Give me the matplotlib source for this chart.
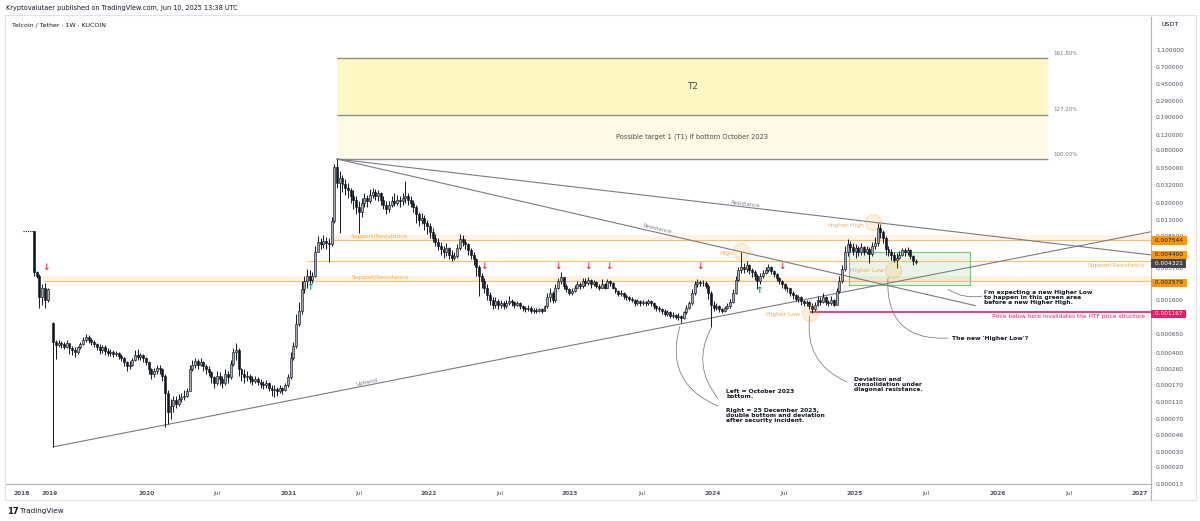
import numpy as np
import matplotlib
matplotlib.use('Agg')
import matplotlib.pyplot as plt
from matplotlib.patches import Rectangle
from matplotlib.lines import Line2D
from matplotlib.transforms import blended_transform_factory

UNIT = 1e-4  # candle values are in units of 0.0001 USDT

# weekly candles, 2018 (bars 0-5)
a_start = 0
a_open = 96
a_close = [33, 30, 17, 22, 16, 21]
a_high = [97, 34, 31, 24, 25, 22]
a_low = [30, 28, 13, 14, 13, 15]

# weekly candles, 2019 -> Jun 2025 (bars 7-323)
b_start = 7
b_open = 8.7
b_close = [
    5.3, 4.9, 5.1, 5.0, 4.7, 5.1, 4.5, 4.3, 4.1, 4.6,
    5.0, 5.6, 6.1, 5.6, 5.3, 5.0, 4.6, 4.3, 4.7, 4.2,
    4.0, 4.1, 3.9, 4.0, 3.7, 3.5, 3.1, 2.8, 2.9, 3.3,
    3.8, 3.6, 3.8, 3.5, 3.1, 2.6, 2.3, 2.5, 2.7, 2.6,
    2.2, 1.4, 0.85, 1.0, 1.15, 1.05, 1.2, 1.25, 1.3, 1.45,
    2.6, 2.9, 3.2, 2.9, 3.1, 2.8, 2.6, 2.4, 2.1, 1.8,
    2.2, 2.0, 1.8, 2.3, 2.1, 3.0, 4.1, 4.3, 2.6, 2.3,
    2.1, 2.2, 2.0, 1.9, 2.0, 1.85, 1.75, 1.7, 1.8, 1.6,
    1.5, 1.55, 1.45, 1.6, 1.5, 1.7, 2.1, 3.5, 4.8, 8.5,
    12, 21, 26, 30, 27, 30, 55, 72, 68, 75,
    70, 68, 125, 520, 340, 390, 330, 300, 280, 240,
    220, 180, 160, 200, 230, 210, 250, 270, 240, 260,
    220, 190, 170, 190, 210, 200, 220, 210, 230, 240,
    220, 200, 180, 150, 130, 135, 120, 110, 95, 80,
    72, 66, 60, 55, 62, 52, 48, 50, 62, 78,
    72, 68, 58, 52, 46, 38, 30, 26, 22, 18,
    16, 14, 15.5, 14, 14.5, 13.5, 14.5, 15.5, 15, 14,
    14.5, 13.5, 13, 12.5, 13, 12, 12.2, 11.8, 12.4, 11.9,
    13.5, 17, 19, 16, 22, 26, 29, 23, 21, 19,
    20, 22, 24, 23, 26, 25, 27, 24, 25.5, 23,
    22, 24, 22, 26, 25, 22, 20, 18.5, 19, 17.5,
    17, 16.5, 16, 14.5, 15.5, 14.5, 15, 14.5, 15.5, 14.5,
    13.5, 13, 12.5, 12, 11, 11.5, 10.5, 10.8, 10.2, 10.5,
    9.8, 11.5, 13, 14.5, 19, 24, 25.5, 24.5, 25, 23,
    19, 14, 13, 13.5, 12.5, 12, 12.8, 13.5, 15, 19,
    27, 35, 38, 36, 40, 35, 33, 30, 26, 30,
    32, 35, 38, 34, 31, 28, 26, 24, 22, 21.5,
    19, 18, 16.5, 17, 15.5, 14.5, 15, 13.5, 12.5, 14,
    16, 15, 17, 15, 14.5, 16, 14, 20, 26, 36,
    55, 68, 64, 57, 62, 55, 64, 56, 60, 53,
    65, 70, 105, 95, 80, 60, 55, 52, 45, 48,
    52, 58, 55, 59, 50, 44, 43.2,
]
b_high = [
    8.9, 5.6, 5.5, 5.4, 5.3, 5.6, 5.2, 4.8, 4.6, 4.8,
    5.3, 6.0, 6.6, 6.3, 5.9, 5.6, 5.2, 5.0, 4.9, 4.9,
    4.5, 4.4, 4.3, 4.2, 4.1, 3.9, 3.6, 3.2, 3.2, 3.5,
    4.3, 4.4, 4.0, 3.9, 3.6, 3.2, 2.7, 2.7, 2.9, 2.9,
    2.7, 2.3, 1.5, 1.2, 1.3, 1.3, 1.35, 1.4, 1.5, 1.6,
    2.9, 3.3, 3.5, 3.4, 3.5, 3.2, 3.0, 2.8, 2.5, 2.2,
    2.5, 2.4, 2.2, 2.6, 2.5, 3.3, 4.5, 5.1, 4.5, 2.7,
    2.6, 2.5, 2.3, 2.2, 2.2, 2.1, 2.0, 1.9, 1.95, 1.85,
    1.7, 1.7, 1.65, 1.7, 1.65, 1.8, 2.3, 4.1, 5.3, 11,
    15, 26, 30, 36, 35, 33, 66, 85, 80, 88,
    82, 80, 140, 560, 635, 460, 420, 380, 340, 300,
    280, 240, 210, 230, 260, 250, 290, 300, 290, 280,
    270, 240, 210, 210, 240, 260, 250, 240, 260, 360,
    260, 240, 220, 190, 160, 155, 145, 130, 120, 105,
    90, 80, 72, 66, 70, 64, 58, 56, 68, 90,
    88, 78, 70, 62, 55, 48, 40, 32, 28, 24,
    19.5, 17, 17, 16.5, 16, 15.5, 16, 17.5, 16.5, 15.5,
    15.5, 15, 14, 13.5, 14, 13.5, 13, 12.8, 13, 12.8,
    14, 19, 22, 20, 24, 28, 33, 29, 24, 22,
    21.5, 23.5, 26, 25.5, 28.5, 28, 29, 27.5, 27, 26,
    24, 27.5, 25, 27.5, 27, 25.5, 22.5, 20.5, 20.5, 19.5,
    18.5, 17.5, 17, 16.5, 16.5, 16, 16, 15.5, 16.5, 16,
    15, 14, 13.5, 13, 12.5, 12.2, 11.8, 11.5, 11, 11.2,
    10.8, 12, 14, 15.5, 21, 26, 27.5, 27, 26.5, 26,
    24, 20, 15.5, 14.5, 14, 13, 13.5, 14.5, 16.5, 21,
    30, 38, 56, 42, 44, 41, 37, 35, 31, 32,
    35, 38, 41, 39, 35, 32, 29, 27, 25, 23,
    22, 20, 18.5, 18, 17.5, 16, 16, 15.5, 14.5, 15,
    17.5, 17, 19, 17.5, 16, 17.5, 16.5, 22, 30, 40,
    65, 78, 74, 70, 68, 66, 70, 66, 66, 64,
    72, 82, 120, 115, 100, 85, 66, 60, 55, 54,
    57, 62, 62, 63, 60, 51, 46,
]
b_low = [
    0.34, 3.4, 4.6, 4.5, 4.4, 4.5, 3.9, 3.8, 3.6, 3.9,
    4.4, 4.9, 5.3, 5.2, 4.9, 4.6, 4.3, 3.9, 4.0, 3.8,
    3.7, 3.7, 3.6, 3.7, 3.4, 3.2, 2.8, 2.5, 2.6, 2.8,
    3.2, 3.3, 3.3, 3.1, 2.9, 2.3, 2.0, 2.1, 2.3, 2.3,
    1.9, 0.57, 0.62, 0.7, 0.85, 0.95, 1.0, 1.1, 1.15, 1.25,
    1.45, 2.5, 2.7, 2.6, 2.8, 2.5, 2.3, 2.2, 1.8, 1.6,
    1.7, 1.7, 1.6, 1.7, 1.8, 2.0, 2.8, 3.3, 2.2, 1.9,
    1.8, 1.9, 1.8, 1.7, 1.8, 1.7, 1.6, 1.55, 1.6, 1.45,
    1.3, 1.25, 1.3, 1.4, 1.35, 1.45, 1.65, 2.0, 3.3, 4.5,
    8.0, 11, 19, 22, 24, 25, 29, 55, 60, 62,
    60, 43, 65, 120, 300, 92, 270, 250, 230, 200,
    170, 150, 92, 140, 180, 180, 200, 230, 220, 210,
    190, 170, 150, 160, 180, 185, 190, 180, 190, 200,
    190, 180, 160, 120, 110, 115, 100, 90, 80, 72,
    65, 58, 52, 48, 50, 46, 44, 45, 48, 58,
    65, 60, 52, 46, 40, 30, 17.5, 22, 19, 16,
    14, 12.5, 13, 12.5, 13, 12.5, 13, 14, 13.5, 13,
    13.5, 12.5, 12, 11.5, 12, 11.3, 11.3, 11.2, 11.5, 11.3,
    11.8, 13, 15, 14.5, 15, 21, 24, 21, 19.5, 18,
    18, 19.5, 21.5, 21, 22, 23, 23.5, 22, 23, 21.5,
    20.5, 21.5, 21, 21.5, 23, 21, 19, 17.5, 17.5, 16.5,
    16, 15.5, 15, 13.5, 14, 13.5, 14, 13.5, 14, 13.5,
    12.5, 12, 11.5, 11, 10.5, 10.5, 10, 10, 9.6, 9.5,
    8.8, 9.6, 11, 12.5, 14, 18, 22.5, 23, 23, 21.5,
    16.5, 7.8, 12, 12.2, 11.6, 11.3, 11.5, 12.5, 13, 14.5,
    18.5, 26, 32, 32, 33, 31, 29, 27, 21, 24,
    28, 31, 33, 31, 29, 26, 24, 22, 20.5, 19.5,
    17.5, 16.5, 15.5, 15, 14, 13.5, 13.5, 12.5, 11.2, 12,
    13.5, 14, 14.5, 13.8, 13.5, 14, 13.5, 13.8, 19, 25,
    34, 50, 55, 52, 48, 50, 52, 51, 53, 42,
    50, 60, 66, 80, 70, 52, 50, 45, 43, 37,
    46, 50, 50, 51, 46, 40, 41,
]

# time axis (bar index -> label)
x_ticks = [-4.4, 5.8, 41.4, 67.0, 93.2, 119.0, 144.5, 170.5, 196.3,
           222.5, 248.6, 274.6, 300.7, 326.7, 352.9, 379.1, 405.0]
x_labels = ['2018', '2019', '2020', 'Jul', '2021', 'Jul', '2022', 'Jul', '2023',
            'Jul', '2024', 'Jul', '2025', 'Jul', '2026', 'Jul', '2027']

# price scale
y_ticks = [1.1, 0.7, 0.45, 0.29, 0.19, 0.12, 0.08, 0.05, 0.032, 0.02, 0.013,
           0.0085, 0.0037, 0.0016, 0.00065, 0.0004, 0.00026, 0.00017,
           0.00011, 0.00007, 0.000046, 0.00003, 0.00002, 0.000013]

# drawn levels
sr_low_band = (0.002579, 0.0030)
sr_high_band = (0.007544, 0.0087)
sr_line = 0.0044
invalid_level = 0.001167
last_price = 0.004321

# fib extension: 0% = Oct 2023 bottom, 100% = ATH
fib_base = 0.00088
fib_top = 0.0635
fib_ratios = [1.0, 1.272, 1.618]
fib_names = ['100.00%', '127.20%', '161.80%']

# trend lines: two anchor points each (bar, price)
uptrend = [(7, 3.4e-5), (237, 8.5e-4)]
res_upper = [(111, 0.0635), (309, 0.0120)]
res_lower = [(111, 0.0635), (259, 0.0056)]

# signal arrows
arrow_dn_k = [4.4, 164.8, 191.9, 202.9, 210.6, 244.0, 274.0]
arrow_dn_p = [0.0037, 0.0038, 0.0038, 0.0038, 0.0038, 0.0038, 0.0038]
arrow_up_k = [101.0, 265.6]
arrow_up_p = [0.00218, 0.00206]

DARK = '#131722'
GREY = '#787b86'
ORANGE = '#ff9800'
ORANGE_TXT = '#f8ab4a'
PINK = '#e91e63'

W, H = 1200, 521
X_MIN, X_MAX = -10.26, 409.16
Y_MIN, Y_MAX = 1.287e-5, 2.609

fig = plt.figure(figsize=(W / 100, H / 100), dpi=100)
fig.patch.set_facecolor('white')
ax = fig.add_axes([6 / W, 1 - 484 / H, 1145 / W, 467 / H])
ax.set_yscale('log')
ax.set_xlim(X_MIN, X_MAX)
ax.set_ylim(Y_MIN, Y_MAX)


def line_price(pts, k):
    (k0, p0), (k1, p1) = pts
    lp = np.log10(p0) + (np.asarray(k) - k0) * (np.log10(p1) - np.log10(p0)) / (k1 - k0)
    return 10 ** lp


def candles(start, first_open, close, high, low):
    c = np.array(close) * UNIT
    h = np.array(high) * UNIT
    lo = np.array(low) * UNIT
    o = np.r_[first_open * UNIT, c[:-1]]
    x = start + np.arange(len(c))
    up = c >= o
    ax.vlines(x, lo, h, color=DARK, lw=0.7, zorder=3)
    ax.bar(x[up], c[up] - o[up], bottom=o[up], width=0.72, color='#a9acb5',
           edgecolor=DARK, linewidth=0.45, zorder=4)
    ax.bar(x[~up], o[~up] - c[~up], bottom=c[~up], width=0.72, color=DARK,
           edgecolor=DARK, linewidth=0.45, zorder=4)


# fib target boxes
fib_prices = [10 ** (np.log10(fib_base) + r * (np.log10(fib_top) - np.log10(fib_base)))
              for r in fib_ratios]
fib_x0, fib_x1 = 111, 371.4
ax.fill_between([fib_x0, fib_x1], fib_prices[0], fib_prices[1], color='#fffbe6', lw=0, zorder=1)
ax.fill_between([fib_x0, fib_x1], fib_prices[1], fib_prices[2], color='#fff8c4', lw=0, zorder=1)
ax.hlines(fib_prices, fib_x0, fib_x1, color='#8d8d8d', lw=1.0, zorder=2)
for p, name in zip(fib_prices, fib_names):
    ax.text(fib_x1 + 1.9, p * 1.06, name, fontsize=4.0, color=GREY, va='bottom', ha='left')
mid = (fib_x0 + fib_x1) / 2
ax.text(mid, np.sqrt(fib_prices[1] * fib_prices[2]), 'T2', fontsize=6.5, color='#4a4a4a',
        ha='center', va='center')
ax.text(mid, np.sqrt(fib_prices[0] * fib_prices[1]), 'Possible target 1 (T1) if bottom October 2023',
        fontsize=4.8, color='#4a4a4a', ha='center', va='center')

# support / resistance zones
ax.fill_between([3.3, X_MAX], sr_low_band[0], sr_low_band[1], color=ORANGE, alpha=0.11, lw=0, zorder=1)
ax.hlines(sr_low_band[0], 3.3, X_MAX, color='#ffbb66', lw=0.8, zorder=2)
ax.fill_between([109.5, X_MAX], sr_high_band[0], sr_high_band[1], color=ORANGE, alpha=0.11, lw=0, zorder=1)
ax.hlines(sr_high_band[0], 109.5, X_MAX, color='#ffbb66', lw=0.8, zorder=2)
ax.hlines(sr_line, 100, X_MAX, color='#ffbb66', lw=0.8, zorder=2)
ax.text(116.5, sr_low_band[0] * 1.03, 'Support/Resistance', fontsize=4.2, color=ORANGE_TXT, va='bottom')
ax.text(115.8, sr_high_band[0] * 1.03, 'Support/Resistance', fontsize=4.2, color=ORANGE_TXT, va='bottom')
ax.text(407, sr_line * 0.96, 'Support/Resistance', fontsize=4.2, color=ORANGE_TXT, va='top', ha='right')

# invalidation level
ax.hlines(invalid_level, 284.2, X_MAX, color=PINK, lw=1.2, zorder=2)
ax.text(407, invalid_level * 0.95, 'Price below here invalidates the HTF price structure',
        fontsize=4.2, color=PINK, va='top', ha='right')

# green expected higher-low zone
ax.add_patch(Rectangle((298.5, 0.00235), 342.9 - 298.5, 0.0056 - 0.00235,
                       facecolor='#4caf50', alpha=0.12, edgecolor='none', zorder=1))
ax.add_patch(Rectangle((298.5, 0.00235), 342.9 - 298.5, 0.0056 - 0.00235,
                       facecolor='none', edgecolor='#7cc47f', lw=0.8, zorder=2))

# trend lines
for pts, k_end in [(uptrend, X_MAX), (res_upper, X_MAX), (res_lower, 344.7)]:
    k_start = pts[0][0]
    ax.plot([k_start, k_end], line_price(pts, [k_start, k_end]), color=GREY, lw=0.8, zorder=2)


def line_label(pts, k_at, text):
    a = ax.transData.transform([pts[0], pts[1]])
    ang = np.degrees(np.arctan2(a[1, 1] - a[0, 1], a[1, 0] - a[0, 0]))
    ax.text(k_at, line_price(pts, k_at) * 1.02, text, rotation=ang, rotation_mode='anchor',
            ha='center', va='bottom', fontsize=4.0, color=GREY)


line_label(res_upper, 260.4, 'Resistance')
line_label(res_lower, 228.2, 'Resistance')
line_label(uptrend, 122.0, 'Uptrend')

# price candles
ax.hlines(96 * UNIT, -4.0, -0.4, color=DARK, lw=0.8, linestyles=(0, (1, 1)), zorder=3)
candles(a_start, a_open, a_close, a_high, a_low)
candles(b_start, b_open, b_close, b_high, b_low)

# arrows
for k, p in zip(arrow_dn_k, arrow_dn_p):
    ax.text(k, p, '\u2193', color='#f23645', fontsize=6.5, fontweight='bold', ha='center', va='center', zorder=6)
for k, p in zip(arrow_up_k, arrow_up_p):
    ax.text(k, p, '\u2191', color='#089981', fontsize=6.5, fontweight='bold', ha='center', va='center', zorder=6)

# swing point markers
circ_k = [259, 307.3, 284.2, 314.7]
circ_p = [0.0057, 0.0122, 0.00113, 0.00348]
ax.scatter(circ_k, circ_p, s=130, facecolor=(1, 0.6, 0, 0.13), edgecolor=(1, 0.6, 0, 0.35), lw=0.6, zorder=5)
for k, p, t in [(256, 0.00542, 'High'), (304, 0.01128, 'Higher High'),
                (280.6, 0.0011, 'Higher Low'), (311.3, 0.00339, 'Higher Low')]:
    ax.text(k, p, t, fontsize=4.3, color=ORANGE_TXT, ha='right', va='center', zorder=6)

# call-outs
notes = [
    (253.5, 1.56e-4, 'Left = October 2023\nbottom.'),
    (253.5, 9.5e-5, 'Right = 25 December 2023,\ndouble bottom and deviation\nafter security incident.'),
    (300.4, 2.1e-4, 'Deviation and\nconsolidation under\ndiagonal resistance.'),
    (348.0, 2.05e-3, "I'm expecting a new Higher Low\nto happen in this green area\nbefore a new Higher High."),
]
for k, p, t in notes:
    ax.text(k, p, t, fontsize=4.3, fontweight='bold', color=DARK, ha='left', va='top',
            linespacing=1.0, zorder=6)
ax.text(336.3, 5.86e-4, "The new 'Higher Low'?", fontsize=4.3, fontweight='bold', color=DARK,
        ha='left', va='center', zorder=6)

connectors = [
    ((236.6, 8.0e-4), (250.5, 9.9e-5), 0.44),
    ((248.0, 7.6e-4), (250.5, 1.22e-4), 0.33),
    ((284.2, 1.06e-3), (297.8, 1.86e-4), 0.38),
    ((334.8, 2.1e-3), (347.3, 1.76e-3), 0.2),
    ((312.8, 2.82e-3), (334.8, 5.86e-4), 0.55),
]
for start, end, rad in connectors:
    ax.annotate('', xy=end, xytext=start,
                arrowprops=dict(arrowstyle='-', color='#6a6d78', lw=0.5,
                                connectionstyle='arc3,rad=%s' % rad, shrinkA=0, shrinkB=0))

# axes styling
ax.set_xticks(x_ticks)
ax.set_xticklabels(x_labels)
for lab in ax.get_xticklabels():
    if lab.get_text().isdigit():
        lab.set_fontweight('bold')
ax.set_yticks(y_ticks)
ax.set_yticklabels(['%.6f' % v for v in y_ticks])
ax.yaxis.set_minor_locator(matplotlib.ticker.NullLocator())
ax.yaxis.tick_right()
ax.tick_params(axis='y', length=0, pad=3.6, labelsize=4.2, labelcolor='#50535e')
ax.tick_params(axis='x', length=0, pad=5.0, labelsize=4.2, labelcolor='#50535e')
for s in ['top', 'left']:
    ax.spines[s].set_visible(False)
ax.spines['right'].set_color('#b2b5be')
ax.spines['bottom'].set_color('#b2b5be')
ax.spines['right'].set_linewidth(0.8)
ax.spines['bottom'].set_linewidth(0.8)

# price tags on the right scale
tag_tr = blended_transform_factory(ax.transAxes, ax.transData)
for val, fg, bg, dy in [(0.007544, DARK, ORANGE, 0), (sr_line, DARK, ORANGE, 4.5),
                        (last_price, 'white', '#434651', -1.2), (sr_low_band[0], DARK, ORANGE, -1),
                        (invalid_level, 'white', PINK, -1.5)]:
    ax.annotate(' %.6f ' % val, xy=(1, val), xycoords=tag_tr, xytext=(1.5, dy),
                textcoords='offset points', ha='left', va='center', fontsize=4.2, color=fg,
                bbox=dict(boxstyle='square,pad=0.28', fc=bg, ec='none'),
                annotation_clip=False, zorder=10)

# frame, header and footer
fig.add_artist(Rectangle((5 / W, 1 - 500 / H), 1191 / W, 485 / H, transform=fig.transFigure,
                         fill=False, ec='#e0e3eb', lw=0.8))
fig.add_artist(Line2D([1151 / W, 1151 / W], [1 - 500 / H, 1 - 484 / H], transform=fig.transFigure,
                      color='#b2b5be', lw=0.8))
fig.text(6 / W, 1 - 8 / H, 'Kryptovalutaer published on TradingView.com, Jun 10, 2025 13:38 UTC',
         fontsize=4.7, color=DARK, va='center')
fig.text(12 / W, 1 - 25 / H, 'Telcoin / Tether \u00b7 1W \u00b7 KUCOIN', fontsize=4.5, color=DARK, va='center')
fig.text(1170 / W, 1 - 25 / H, 'USDT', fontsize=4.6, color=DARK, va='center', ha='center',
         bbox=dict(boxstyle='round,pad=0.5', fc='#f8f9fd', ec='none'))
fig.text(7 / W, 1 - 511 / H, '17', fontsize=6, fontweight='bold', color=DARK, va='center')
fig.text(20 / W, 1 - 511 / H, 'TradingView', fontsize=5.2, color=DARK, va='center')

fig.savefig('out.png', dpi=100, facecolor='white')
